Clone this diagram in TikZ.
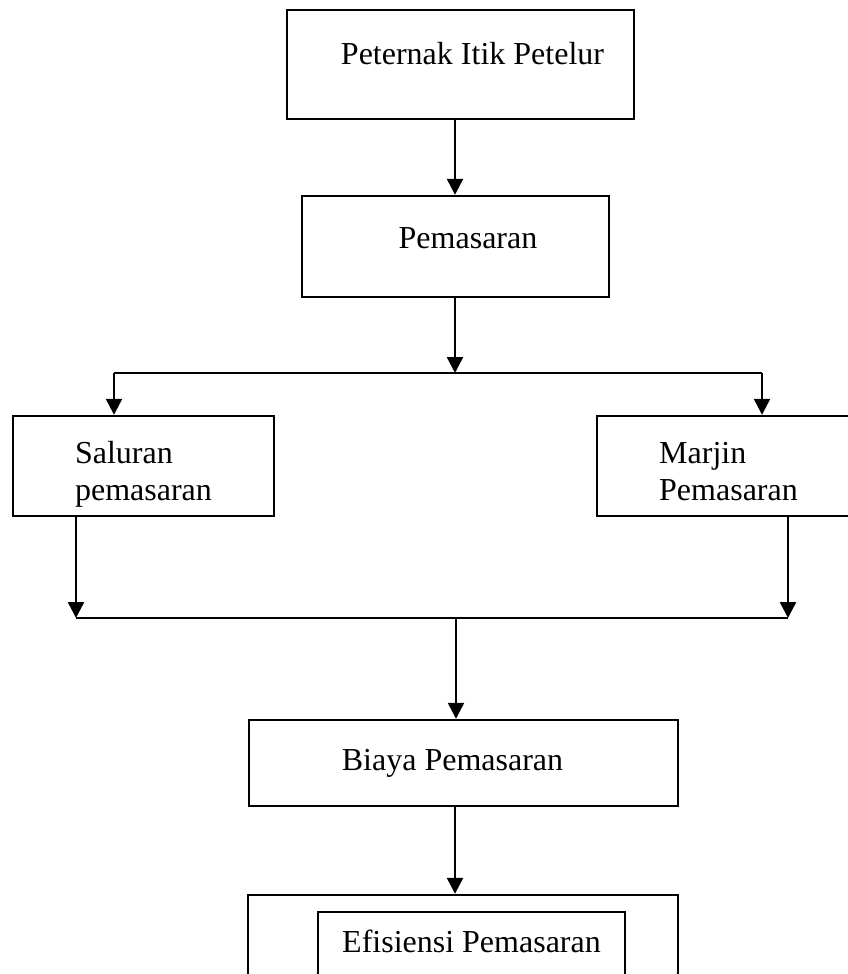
\documentclass[tikz,border=0pt]{standalone}
\usepackage{fontspec}
\setmainfont{Liberation Serif}
\usetikzlibrary{arrows.meta, positioning}
\tikzstyle{box} = [
    rectangle,
    draw=black,
    line width=2.4pt,
    inner sep=0pt,
    font=\fontsize{32}{37}\selectfont
]
\tikzstyle{sidebox} = [
    box,
    minimum width=261pt,
    text height=84pt,
    text depth=16pt,
    align=left
]
\tikzstyle{line} = [line width=2.4pt]
\tikzstyle{arrow} = [line width=2.4pt,-{Triangle[length=16pt,width=16pt]}]

\begin{document}
\begin{tikzpicture}[x=1pt,y=-1pt]
\useasboundingbox (0,0) rectangle (848,974);
\clip (0,0) rectangle (848,974);

% Nodes
\node (start) [box, minimum width=347pt, text height=54pt, text depth=55pt] at (460.5,64.5) {\hspace*{24pt}Peternak Itik Petelur};
\node (pem) [box, minimum width=307pt, text height=52pt, text depth=49pt] at (455.5,246.5) {\hspace*{25pt}Pemasaran};
\node (saluran) [sidebox] at (143.5,466) {Saluran\\pemasaran};
\node (marjin) [sidebox, minimum width=263pt] at (728.5,466) {Marjin\\Pemasaran};
\node (biaya) [box, minimum width=429pt, text height=50pt, text depth=36pt] at (463.5,763) {Biaya Pemasaran\hspace*{22pt}};
\node (outer) [box, minimum width=430pt, minimum height=120pt] at (463,955) {};
\node (efisiensi) [box, minimum width=307pt, text height=40pt, text depth=60pt] at (471.5,962) {Efisiensi Pemasaran};

% Junctions
\coordinate (spine) at (455,0);
\coordinate (split) at (455,373);
\coordinate (splitL) at (114,373);
\coordinate (splitR) at (762,373);
\coordinate (merge) at (456,618);
\coordinate (mergeL) at (76,618);
\coordinate (mergeR) at (788,618);

% Arrows
\draw [arrow] (start.south -| spine) -- (pem.north -| spine);
\draw [arrow] (pem.south -| spine) -- (split);
\draw [line] (splitL) -- (splitR);
\draw [arrow] (splitL) -- (saluran.north -| splitL);
\draw [arrow] (splitR) -- (marjin.north -| splitR);
\draw [arrow] (saluran.south -| mergeL) -- (mergeL);
\draw [arrow] (marjin.south -| mergeR) -- (mergeR);
\draw [line] (mergeL) -- (mergeR);
\draw [arrow] (merge) -- (biaya.north -| merge);
\draw [arrow] (biaya.south -| spine) -- (outer.north -| spine);

\end{tikzpicture}
\end{document}
